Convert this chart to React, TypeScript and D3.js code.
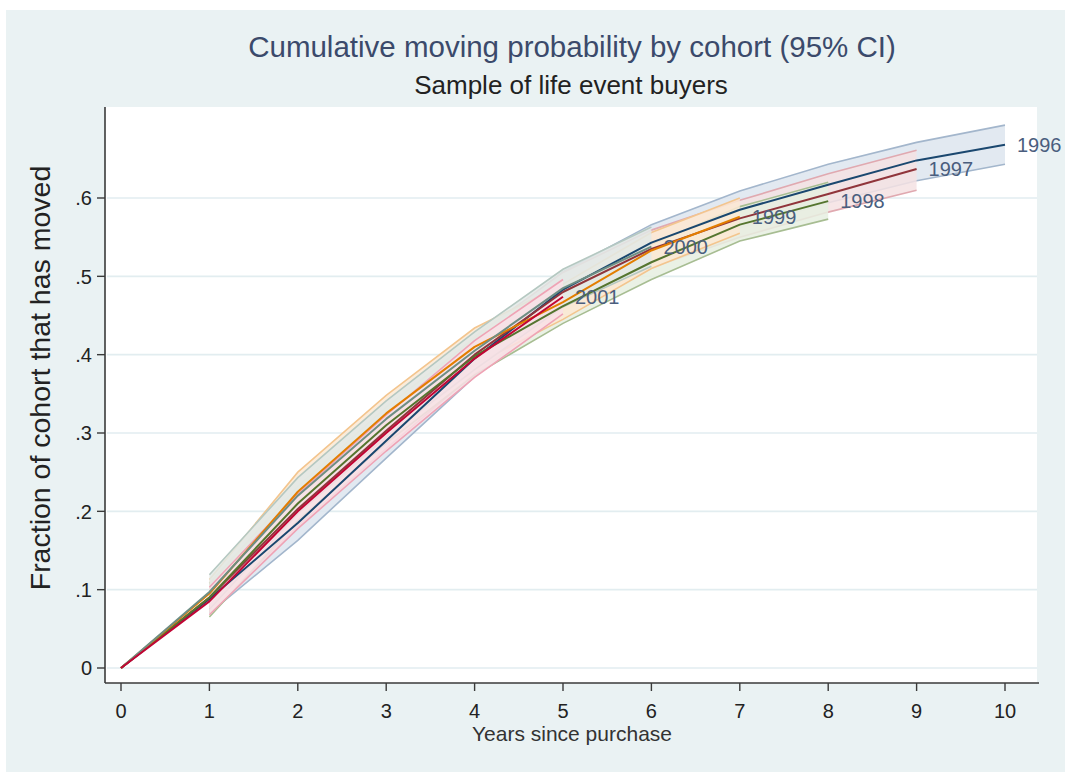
import React from "react";
import * as d3 from "d3";

// Cohorts and their colours (Stata s2color order)
const cohorts = ["1996", "1997", "1998", "1999", "2000", "2001"];
const lineColors = ["#1a476f", "#90353b", "#55752f", "#e37e00", "#6e8e84", "#c10534"];
const bandFills = ["#dde5ee", "#f4e2e3", "#e6eee0", "#fbe9d3", "#e2e9e6", "#f9e0e6"];
const bandEdges = ["#a3b6cc", "#e0a9b0", "#a7bd92", "#f3c58e", "#b5c8c1", "#efa3b5"];

// Point estimates by years since purchase (index = year)
const est1996 = [0, 0.088, 0.185, 0.29, 0.395, 0.483, 0.543, 0.585, 0.617, 0.648, 0.668];
const est1997 = [0, 0.09, 0.203, 0.303, 0.4, 0.48, 0.535, 0.574, 0.605, 0.637];
const est1998 = [0, 0.09, 0.21, 0.31, 0.398, 0.462, 0.518, 0.566, 0.596];
const est1999 = [0, 0.095, 0.225, 0.325, 0.41, 0.467, 0.533, 0.576];
const est2000 = [0, 0.097, 0.22, 0.318, 0.405, 0.485, 0.538];
const est2001 = [0, 0.085, 0.2, 0.3, 0.395, 0.474];

// 95% CI bounds, from year 1 onward
const lo1996 = [0.07, 0.163, 0.268, 0.372, 0.46, 0.52, 0.562, 0.594, 0.622, 0.643];
const hi1996 = [0.106, 0.207, 0.312, 0.418, 0.506, 0.566, 0.609, 0.643, 0.671, 0.693];
const lo1997 = [0.072, 0.181, 0.28, 0.376, 0.456, 0.511, 0.55, 0.582, 0.61];
const hi1997 = [0.108, 0.225, 0.326, 0.423, 0.505, 0.559, 0.597, 0.631, 0.661];
const lo1998 = [0.065, 0.188, 0.287, 0.374, 0.44, 0.496, 0.545, 0.573];
const hi1998 = [0.108, 0.232, 0.333, 0.421, 0.486, 0.541, 0.589, 0.62];
const lo1999 = [0.078, 0.203, 0.303, 0.387, 0.445, 0.51, 0.555];
const hi1999 = [0.113, 0.25, 0.348, 0.434, 0.49, 0.556, 0.6];
const lo2000 = [0.075, 0.197, 0.295, 0.381, 0.461, 0.513];
const hi2000 = [0.119, 0.243, 0.341, 0.429, 0.509, 0.563];
const lo2001 = [0.068, 0.178, 0.277, 0.371, 0.452];
const hi2001 = [0.103, 0.222, 0.323, 0.418, 0.496];

const estimates = [est1996, est1997, est1998, est1999, est2000, est2001];
const lows = [lo1996, lo1997, lo1998, lo1999, lo2000, lo2001];
const highs = [hi1996, hi1997, hi1998, hi1999, hi2000, hi2001];

const xTicks = [0, 1, 2, 3, 4, 5, 6, 7, 8, 9, 10];
const yTicks = [0, 0.1, 0.2, 0.3, 0.4, 0.5, 0.6];
const yTickLabels = ["0", ".1", ".2", ".3", ".4", ".5", ".6"];

const W = 1065;
const H = 773;
const plot = { left: 105, right: 1037, top: 107, bottom: 683 };
const font = "'Liberation Sans', Arial, sans-serif";

export default function App() {
  const x = d3.scaleLinear().domain([0, 10]).range([121, 1005]);
  const y = d3.scaleLinear().domain([0, 0.6]).range([668, 198]);

  const line = d3
    .line<number>()
    .x((_, i) => x(i))
    .y((d) => y(d));

  const band = (lo: number[], hi: number[]) =>
    d3
      .area<number>()
      .x((_, i) => x(i + 1))
      .y0((_, i) => y(lo[i]))
      .y1((d) => y(d))(hi) as string;

  const edge = d3
    .line<number>()
    .x((_, i) => x(i + 1))
    .y((d) => y(d));

  return (
    <svg
      width={W}
      height={H}
      style={{ position: "absolute", left: 0, top: 0 }}
      fontFamily={font}
    >
      <rect x={0} y={0} width={W} height={H} fill="#ffffff" />
      <rect x={6} y={10} width={W - 6} height={762} fill="#eaf2f3" />
      <rect
        x={plot.left}
        y={plot.top}
        width={plot.right - plot.left}
        height={plot.bottom - plot.top}
        fill="#ffffff"
      />

      {/* horizontal grid */}
      {yTicks.map((t) => (
        <line
          key={"g" + t}
          x1={plot.left + 2}
          x2={plot.right}
          y1={y(t)}
          y2={y(t)}
          stroke="#e2edf0"
          strokeWidth={1.6}
        />
      ))}

      {/* confidence bands */}
      {cohorts.map((c, k) => (
        <g key={"b" + c}>
          <path d={band(lows[k], highs[k])} fill={bandFills[k]} fillOpacity={0.85} />
          <path d={edge(lows[k]) as string} fill="none" stroke={bandEdges[k]} strokeWidth={1.6} />
          <path d={edge(highs[k]) as string} fill="none" stroke={bandEdges[k]} strokeWidth={1.6} />
        </g>
      ))}

      {/* point estimates */}
      {cohorts.map((c, k) => (
        <path
          key={"l" + c}
          d={line(estimates[k]) as string}
          fill="none"
          stroke={lineColors[k]}
          strokeWidth={2}
          strokeLinejoin="round"
        />
      ))}

      {/* cohort labels at the end of each line */}
      {cohorts.map((c, k) => {
        const e = estimates[k];
        const n = e.length - 1;
        return (
          <text
            key={"t" + c}
            x={x(n) + 12}
            y={y(e[n])}
            dy="0.35em"
            fontSize={20}
            fill="#4a5e7e"
          >
            {c}
          </text>
        );
      })}

      {/* axes */}
      <line x1={plot.left} x2={plot.left} y1={plot.top} y2={plot.bottom} stroke="#3a3a3a" strokeWidth={1.6} />
      <line x1={plot.left} x2={plot.right + 2} y1={plot.bottom} y2={plot.bottom} stroke="#3a3a3a" strokeWidth={1.6} />
      {yTicks.map((t, i) => (
        <g key={"yt" + t}>
          <line x1={plot.left - 8} x2={plot.left} y1={y(t)} y2={y(t)} stroke="#3a3a3a" strokeWidth={1.4} />
          <text x={plot.left - 13} y={y(t)} dy="0.36em" textAnchor="end" fontSize={20} fill="#222">
            {yTickLabels[i]}
          </text>
        </g>
      ))}
      {xTicks.map((t) => (
        <g key={"xt" + t}>
          <line x1={x(t)} x2={x(t)} y1={plot.bottom} y2={plot.bottom + 8} stroke="#3a3a3a" strokeWidth={1.4} />
          <text x={x(t)} y={plot.bottom + 35} textAnchor="middle" fontSize={20} fill="#222">
            {t}
          </text>
        </g>
      ))}

      <text x={572} y={741} textAnchor="middle" fontSize={21} fill="#333">
        Years since purchase
      </text>
      <text
        transform={`translate(50, 378) rotate(-90)`}
        textAnchor="middle"
        fontSize={28.5}
        fill="#222"
      >
        Fraction of cohort that has moved
      </text>

      <text x={572} y={57} textAnchor="middle" fontSize={29.5} fill="#3b4a6b">
        Cumulative moving probability by cohort (95% CI)
      </text>
      <text x={571} y={94} textAnchor="middle" fontSize={26} fill="#222">
        Sample of life event buyers
      </text>
    </svg>
  );
}
